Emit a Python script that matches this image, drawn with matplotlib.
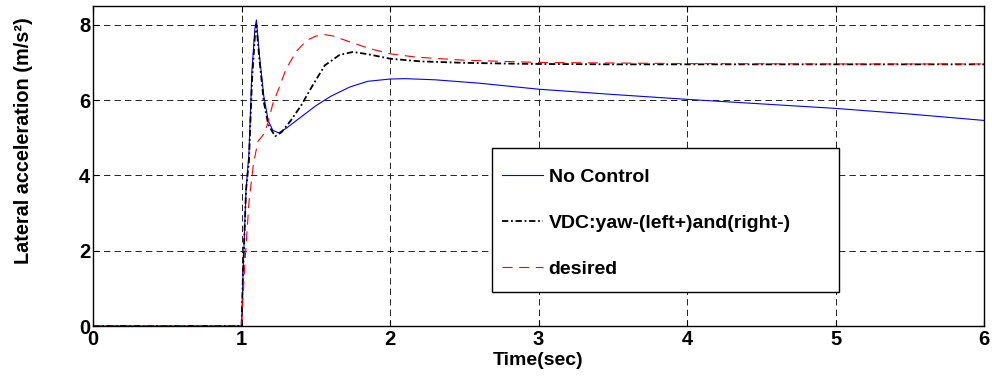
import matplotlib
matplotlib.use("Agg")
import matplotlib.pyplot as plt
from matplotlib.patches import Rectangle

plt.rcParams["font.family"] = ["Liberation Sans", "DejaVu Sans"]
plt.rcParams["font.weight"] = "bold"

# No Control
t_nc = [0, 1.0, 1.01, 1.03, 1.05, 1.07, 1.09, 1.10, 1.12, 1.15, 1.18, 1.21, 1.25,
        1.30, 1.40, 1.50, 1.60, 1.73, 1.85, 2.0, 2.1, 2.3, 2.6, 3.0, 3.5, 4.0,
        4.5, 5.0, 5.5, 6.0]
a_nc = [0, 0, 1.4, 3.6, 4.6, 6.8, 7.9, 8.13, 7.2, 6.1, 5.45, 5.2, 5.13,
        5.25, 5.55, 5.85, 6.1, 6.35, 6.5, 6.56, 6.57, 6.54, 6.45, 6.29, 6.15, 6.02,
        5.9, 5.78, 5.63, 5.46]

# VDC: yaw-(left+)and(right-)
t_vdc = [0, 1.0, 1.01, 1.03, 1.05, 1.07, 1.09, 1.10, 1.12, 1.15, 1.18, 1.226, 1.27,
         1.33, 1.40, 1.48, 1.56, 1.66, 1.75, 1.85, 2.0, 2.2, 2.5, 2.8, 3.0, 3.5,
         4.0, 5.0, 6.0]
a_vdc = [0, 0, 1.4, 3.6, 4.4, 6.5, 7.7, 8.0, 7.1, 5.95, 5.35, 5.04, 5.15,
         5.45, 5.85, 6.4, 6.92, 7.2, 7.28, 7.22, 7.1, 7.03, 6.99, 6.97, 6.96, 6.95,
         6.95, 6.95, 6.95]

# desired
t_des = [0, 1.0, 1.02, 1.05, 1.08, 1.11, 1.15, 1.18, 1.21, 1.25, 1.30, 1.37, 1.44,
         1.50, 1.56, 1.62, 1.69, 1.80, 1.90, 2.0, 2.18, 2.5, 3.0, 4.0, 5.0, 6.0]
a_des = [0, 0, 1.5, 3.3, 4.3, 4.9, 5.1, 5.42, 5.9, 6.3, 6.83, 7.3, 7.59,
         7.7, 7.74, 7.7, 7.6, 7.45, 7.33, 7.23, 7.14, 7.06, 7.0, 6.97, 6.96, 6.96]

x_ticks = [0, 1, 2, 3, 4, 5, 6]
y_ticks = [0, 2, 4, 6, 8]

fig = plt.figure(figsize=(9.92, 3.79), dpi=100, facecolor="white")
ax = fig.add_axes([0.0938, 0.1398, 0.8982, 0.8444])

ax.plot(t_nc, a_nc, color="#0000ff", lw=0.8, label="No Control")
ax.plot(t_vdc, a_vdc, color="black", lw=1.3, dashes=(3.5, 1.5, 1, 1.5),
        label="VDC:yaw-(left+)and(right-)")
ax.plot(t_des, a_des, color="#ff0000", lw=0.8, dashes=(9, 6), label="desired")

ax.set_xlim(0, 6)
ax.set_ylim(0, 8.5)
ax.set_xticks(x_ticks)
ax.set_yticks(y_ticks)
ax.tick_params(direction="in", top=True, right=True, labelsize=14.5, length=4)
ax.tick_params(axis="x", pad=3)
ax.tick_params(axis="y", pad=2)
for lab in ax.get_xticklabels() + ax.get_yticklabels():
    lab.set_fontweight("bold")
ax.grid(True, color="#222222", lw=0.7, dashes=(6.5, 4.3))
for s in ax.spines.values():
    s.set_linewidth(1.0)

ax.set_xlabel("Time(sec)", fontsize=14, fontweight="bold", va="top")
ax.xaxis.set_label_coords(0.5, -0.082)
ax.set_ylabel("Lateral acceleration (m/s²)", fontsize=14.3, fontweight="bold")
ax.yaxis.set_label_coords(-0.067, 0.58)

# legend box (MATLAB-style, wider than its content)
ax.add_patch(Rectangle((0.4478, 0.106), 0.3895, 0.45, transform=ax.transAxes,
                       facecolor="white", edgecolor="black", lw=1.0, zorder=4))
leg = ax.legend(loc="upper left", bbox_to_anchor=(0.459, 0.494),
                fontsize=14, frameon=False, handlelength=2.1, handletextpad=0.3,
                labelspacing=1.47, borderpad=0, borderaxespad=0)
leg.set_zorder(5)
for txt in leg.get_texts():
    txt.set_fontweight("bold")

fig.savefig("out.png", dpi=100)
